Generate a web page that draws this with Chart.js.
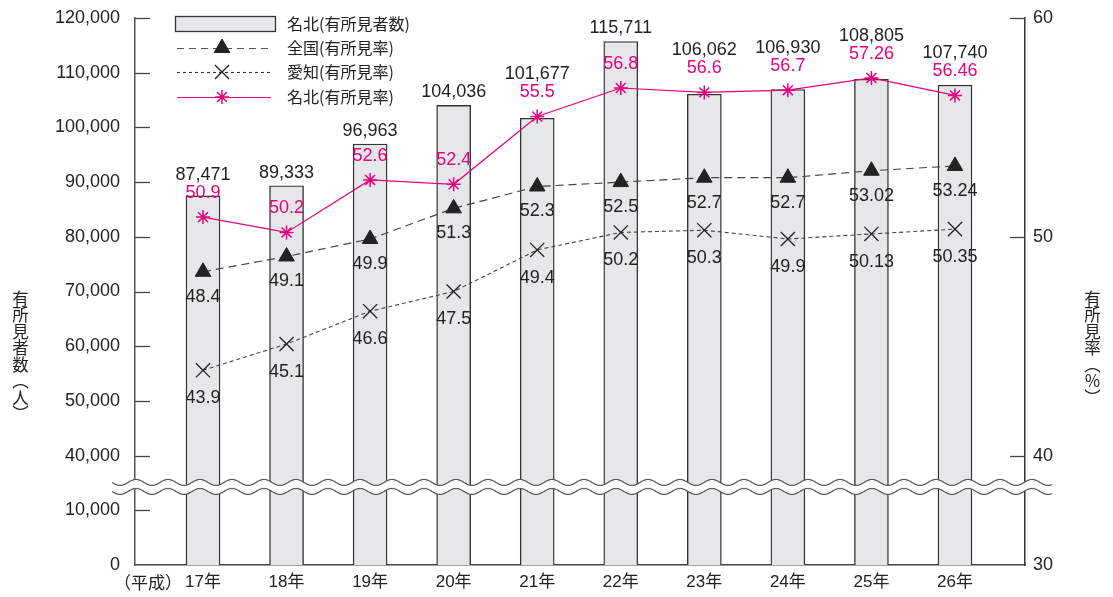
<!DOCTYPE html>
<html><head><meta charset="utf-8">
<script src="https://cdn.jsdelivr.net/npm/chart.js@4"></script>
<style>
html,body{margin:0;padding:0;background:#fff;}
#wrap{position:relative;width:1113px;height:597px;overflow:hidden;}
canvas{position:absolute;left:0;top:0;}
.vt{position:absolute;writing-mode:vertical-rl;font-family:"Noto Sans CJK JP",sans-serif;font-size:16.5px;color:#222;line-height:1;}
</style></head><body>
<div id="wrap"><canvas id="c" width="1113" height="597"></canvas>
<div class="vt" style="left:12px;top:290px;">有所見者数（人）</div>
<div class="vt" style="left:1084px;top:290px;">有所見率（％）</div>
</div>
<script>
// ---- data ----
const categories = ['17年','18年','19年','20年','21年','22年','23年','24年','25年','26年'];
const eraPrefix = '（平成）';
const meihokuCount = [87471, 89333, 96963, 104036, 101677, 115711, 106062, 106930, 108805, 107740];
const zenkokuRate = [48.4, 49.1, 49.9, 51.3, 52.3, 52.5, 52.7, 52.7, 53.02, 53.24];
const aichiRate = [43.9, 45.1, 46.6, 47.5, 49.4, 50.2, 50.3, 49.9, 50.13, 50.35];
const meihokuRate = [50.9, 50.2, 52.6, 52.4, 55.5, 56.8, 56.6, 56.7, 57.26, 56.46];
const leftTickLabels = ['0','10,000','40,000','50,000','60,000','70,000','80,000','90,000','100,000','110,000','120,000'];
const rightTickLabels = ['30','40','50','60'];
const seriesNames = ['名北(有所見者数)','全国(有所見率)','愛知(有所見率)','名北(有所見率)'];

// axis break: values below the break are shifted up (compressed gap)
const num = s => parseFloat(String(s).replace(/,/g,''));
const leftPos = v => v >= 40000 ? v : v + 20000;
const rightPos = v => v >= 40 ? v : v + 5;

const MAGENTA = '#e5007f';
const NUMFONT = '"Liberation Sans", Arial, "Noto Sans CJK JP", sans-serif';
const JPFONT = '"Noto Sans CJK JP", sans-serif';

const xy = arr => arr.map((v,i)=>({x:i,y:v}));

// layout targets (chart area edges)
const AREA = {top:18, bottom:565, left:135, right:1025};
const fitSize = {x:32, y:135, y2:88, top:18};

const tickPlugin = {
  id:'inwardTicks',
  afterDraw(chart){
    const ctx = chart.ctx, a = chart.chartArea;
    const yL = chart.scales.y, yR = chart.scales.y2;
    ctx.save();
    ctx.strokeStyle = '#444'; ctx.lineWidth = 1.3;
    yL.ticks.forEach((t,i)=>{ if(i===0) return; const p = Math.round(yL.getPixelForValue(t.value))+0.5;
      ctx.beginPath(); ctx.moveTo(a.left,p); ctx.lineTo(a.left+15,p); ctx.stroke(); });
    yR.ticks.forEach((t,i)=>{ if(i===0) return; const p = Math.round(yR.getPixelForValue(t.value))+0.5;
      ctx.beginPath(); ctx.moveTo(a.right,p); ctx.lineTo(a.right-15,p); ctx.stroke(); });
    const xs = chart.scales.x;
    ctx.font = '17px ' + NUMFONT;
    const w0 = ctx.measureText(categories[0]).width;
    ctx.fillStyle = '#222'; ctx.textAlign='right'; ctx.textBaseline='middle';
    ctx.font = '17px ' + JPFONT;
    ctx.fillText(eraPrefix, xs.getPixelForValue(0) - w0/2 - 3, 583);
    ctx.restore();
  }
};

const breakPlugin = {
  id:'axisBreak',
  afterDraw(chart){
    const ctx = chart.ctx, a = chart.chartArea, yL = chart.scales.y;
    const mid = (yL.getPixelForValue(leftPos(10000)) + yL.getPixelForValue(40000))/2 + 4;
    const x0 = a.left - 23, x1 = a.right + 27, amp = 3, per = 32, gap = 4.5;
    const wave = (off, rev) => {
      const pts = [];
      for(let x=x0; x<=x1; x+=1){ pts.push([x, mid+off + amp*Math.sin((x-x0)/per*2*Math.PI)]); }
      return rev ? pts.reverse() : pts;
    };
    ctx.save();
    const top = wave(-gap,false), bot = wave(gap,true);
    ctx.beginPath();
    top.forEach((p,i)=> i? ctx.lineTo(p[0],p[1]) : ctx.moveTo(p[0],p[1]));
    bot.forEach(p=> ctx.lineTo(p[0],p[1]));
    ctx.closePath(); ctx.fillStyle='#fff'; ctx.fill();
    ctx.strokeStyle='#555'; ctx.lineWidth=1.2;
    [top, bot].forEach(pts=>{ ctx.beginPath(); pts.forEach((p,i)=> i? ctx.lineTo(p[0],p[1]) : ctx.moveTo(p[0],p[1])); ctx.stroke(); });
    ctx.restore();
  }
};

const labelPlugin = {
  id:'valueLabels',
  afterDatasetsDraw(chart){
    const ctx = chart.ctx, xs = chart.scales.x, yL = chart.scales.y, yR = chart.scales.y2;
    ctx.save();
    ctx.font = '18px ' + NUMFONT; ctx.textAlign='center'; ctx.textBaseline='middle';
    categories.forEach((c,i)=>{
      const px = xs.getPixelForValue(i);
      const mY = yR.getPixelForValue(meihokuRate[i]);
      const mLabelY = mY - 24;
      const barTop = yL.getPixelForValue(meihokuCount[i]);
      const bLabelY = Math.min(barTop - 13, mLabelY - 18);
      ctx.fillStyle = '#222';
      ctx.fillText(meihokuCount[i].toLocaleString('en-US'), px, bLabelY);
      ctx.fillStyle = MAGENTA;
      ctx.fillText(String(meihokuRate[i]), px, mLabelY);
      ctx.fillStyle = '#222';
      ctx.fillText(String(zenkokuRate[i]), px, yR.getPixelForValue(zenkokuRate[i]) + 25);
      ctx.fillText(String(aichiRate[i]), px, yR.getPixelForValue(aichiRate[i]) + 28);
    });
    ctx.restore();
  }
};

const legendPlugin = {
  id:'customLegend',
  afterDraw(chart){
    const ctx = chart.ctx;
    const rows = [24, 48, 72, 97], lx0 = 177, lx1 = 271, mx = 222, tx = 287;
    ctx.save();
    ctx.fillStyle = '#e6e7e9'; ctx.fillRect(175.5, 16.5, 100, 15);
    ctx.strokeStyle = '#333'; ctx.lineWidth = 1.3; ctx.strokeRect(175.5, 16.5, 100, 15);
    const line = (y, color, dash, w) => { ctx.save(); ctx.strokeStyle=color; ctx.setLineDash(dash); ctx.lineWidth=w;
      ctx.beginPath(); ctx.moveTo(lx0, y); ctx.lineTo(lx1, y); ctx.stroke(); ctx.restore(); };
    line(rows[1]+0.5, '#555', [7,5], 1.2);
    line(rows[2]+0.5, '#333', [3,3], 1.1);
    line(rows[3]+0.5, MAGENTA, [], 1.2);
    const H = Chart.helpers;
    ctx.fillStyle='#222'; ctx.strokeStyle='#222'; ctx.lineWidth=1;
    H.drawPoint(ctx, {pointStyle:'triangle', radius:9, borderWidth:1, rotation:0}, mx, rows[1]);
    ctx.fillStyle='#fff'; ctx.strokeStyle='#222'; ctx.lineWidth=1.3;
    H.drawPoint(ctx, {pointStyle:'crossRot', radius:10, borderWidth:1.3, rotation:0}, mx, rows[2]);
    ctx.strokeStyle=MAGENTA; ctx.fillStyle=MAGENTA; ctx.lineWidth=1.5;
    H.drawPoint(ctx, {pointStyle:'star', radius:7, borderWidth:1.5, rotation:0}, mx, rows[3]);
    ctx.fillStyle='#222'; ctx.font='16px ' + JPFONT; ctx.textAlign='left'; ctx.textBaseline='middle';
    seriesNames.forEach((n,i)=> ctx.fillText(n, tx, rows[i]));
    ctx.restore();
  }
};

const chart = new Chart(document.getElementById('c'), {
  type:'bar',
  data:{
    datasets:[
      {type:'line', label:seriesNames[3], data:xy(meihokuRate), yAxisID:'y2', order:1,
       borderColor:MAGENTA, borderWidth:1.2, pointStyle:'star', pointRadius:7, pointBorderColor:MAGENTA,
       pointBackgroundColor:MAGENTA, pointBorderWidth:1.5, tension:0},
      {type:'line', label:seriesNames[1], data:xy(zenkokuRate), yAxisID:'y2', order:2,
       borderColor:'#444', borderWidth:1.2, borderDash:[8,5], pointStyle:'triangle', pointRadius:9,
       pointBackgroundColor:'#222', pointBorderColor:'#222', pointBorderWidth:1, tension:0},
      {type:'line', label:seriesNames[2], data:xy(aichiRate), yAxisID:'y2', order:3,
       borderColor:'#444', borderWidth:1.1, borderDash:[4,3], pointStyle:'crossRot', pointRadius:10,
       pointBackgroundColor:'#222', pointBorderColor:'#222', pointBorderWidth:1.3, tension:0},
      {type:'bar', label:seriesNames[0], data:xy(meihokuCount), yAxisID:'y', order:4,
       backgroundColor:'#e6e7e9', borderColor:'#333', borderWidth:1.4, barThickness:34, borderSkipped:false}
    ]
  },
  options:{
    responsive:false, animation:false, devicePixelRatio:1,
    layout:{padding:{top:fitSize.top, left:0, right:0, bottom:0}},
    plugins:{legend:{display:false}, tooltip:{enabled:false}},
    scales:{
      x:{type:'linear', offset:false, min:-0.8138, max:9.838, grid:{display:false, drawTicks:false, offset:false},
         border:{display:true, color:'#444', width:1.5},
         afterBuildTicks:s=>{ s.ticks = categories.map((c,i)=>({value:i})); },
         ticks:{callback:(v,i)=>categories[i], font:{size:17, family:NUMFONT}, color:'#222', padding:7, maxRotation:0, autoSkip:false},
         afterFit:s=>{ s.height = fitSize.x; s.paddingLeft = 0; s.paddingRight = 0; }},
      y:{type:'linear', position:'left', min:leftPos(0), max:120000,
         grid:{display:false, drawTicks:false}, border:{display:true, color:'#555', width:1.5},
         afterBuildTicks:s=>{ s.ticks = leftTickLabels.map(l=>({value:leftPos(num(l))})); },
         ticks:{callback:(v,i)=>leftTickLabels[i], font:{size:18, family:NUMFONT}, color:'#222', padding:15, autoSkip:false},
         afterFit:s=>{ s.width = fitSize.y; s.paddingTop = 0; s.paddingBottom = 0; }},
      y2:{type:'linear', position:'right', min:rightPos(30), max:60,
         grid:{display:false, drawTicks:false}, border:{display:true, color:'#333', width:1.5},
         afterBuildTicks:s=>{ s.ticks = rightTickLabels.map(l=>({value:rightPos(num(l))})); },
         ticks:{callback:(v,i)=>rightTickLabels[i], font:{size:18, family:NUMFONT}, color:'#222', padding:8, autoSkip:false},
         afterFit:s=>{ s.width = fitSize.y2; s.paddingTop = 0; s.paddingBottom = 0; }}
    }
  },
  plugins:[labelPlugin, tickPlugin, breakPlugin, legendPlugin]
});

// correct the chart area to the reference frame
const ca = chart.chartArea;
fitSize.top += AREA.top - ca.top;
fitSize.x += ca.bottom - AREA.bottom;
fitSize.y += AREA.left - ca.left;
fitSize.y2 += ca.right - AREA.right;
chart.options.layout.padding = {top: fitSize.top, left:0, right:0, bottom:0};
chart.update();
</script>
</body></html>
